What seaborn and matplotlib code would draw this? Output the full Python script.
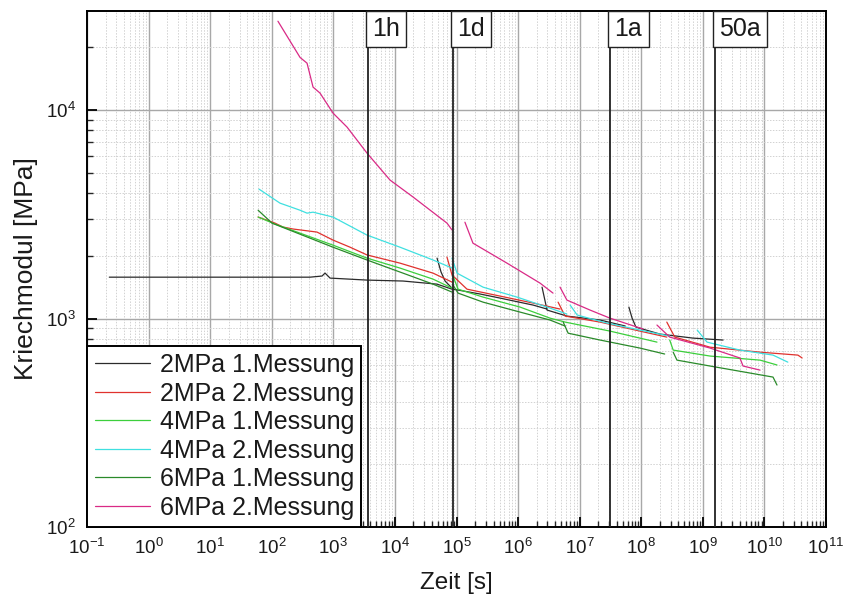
import matplotlib
matplotlib.use("Agg")
import matplotlib.pyplot as plt
import matplotlib.ticker as mticker
import matplotlib.transforms as mtransforms
import pandas as pd
import seaborn as sns

# ---- data: creep modulus [MPa] over time [s], each test made of several segments ----
series_names = ["2MPa 1.Messung", "2MPa 2.Messung", "4MPa 1.Messung",
                "4MPa 2.Messung", "6MPa 1.Messung", "6MPa 2.Messung"]
series_colors = ["#2b2b2b", "#e0322e", "#3ccf3c", "#3fe0e0", "#2a8a2a", "#d92a86"]

t_2mpa_1 = [[0.23, 10, 100, 417, 655, 733, 884, 3520, 13550, 48300, 84600],
            [48300, 56100, 65200, 87700, 2.41e5, 5.1e5, 1.75e6, 2.95e6],
            [2.45e6, 2.95e6, 6.2e6, 2.14e7, 5.5e7],
            [6.3e7, 7.1e7, 8.2e7, 2.0e8, 6.9e8, 2.13e9]]
e_2mpa_1 = [[1580, 1580, 1580, 1580, 1600, 1653, 1564, 1530, 1514, 1463, 1384],
            [1950, 1672, 1514, 1384, 1312, 1254, 1161, 1111],
            [1415, 1099, 1028, 984, 921],
            [1135, 1005, 910, 843, 806, 789]]

t_2mpa_2 = [[60, 113, 152, 221, 543, 988, 1870, 3520, 12100, 41600, 84600],
            [7.0e4, 84600, 1.48e5, 5.1e5, 1.75e6, 4.8e6],
            [4.46e6, 5.8e6, 2.14e7, 9.5e7, 2.6e8],
            [2.6e8, 3.5e8, 1.31e9, 8.5e9, 3.5e10, 4.1e10]]
e_2mpa_2 = [[3070, 2870, 2750, 2690, 2600, 2380, 2200, 2020, 1845, 1652, 1496],
            [1972, 1618, 1384, 1282, 1187, 1111],
            [1199, 1028, 962, 871, 815],
            [962, 815, 729, 690, 668, 647]]

t_4mpa_1 = [[60, 113, 288, 988, 3520, 12100, 41600, 84600],
            [87700, 1.06e5, 2.7e5, 1.08e6, 3.3e6, 5.8e6, 3.1e7, 1.8e8],
            [2.9e8, 3.3e8, 1.31e9, 8.5e9, 1.6e10]]
e_4mpa_1 = [[3070, 2840, 2570, 2250, 1950, 1747, 1546, 1400],
            [1600, 1384, 1268, 1135, 1005, 962, 871, 771],
            [789, 706, 661, 632, 599]]

t_4mpa_2 = [[62, 136, 288, 374, 468, 988, 3520, 12100, 41600, 84600],
            [84600, 1.02e5, 2.7e5, 9.6e5, 3.3e6, 6.2e6],
            [7.0e6, 9.1e6, 2.8e7, 9.5e7, 2.9e8],
            [8.1e8, 1.17e9, 4.0e9, 1.38e10, 2.4e10]]
e_4mpa_2 = [[4180, 3580, 3310, 3205, 3240, 3070, 2515, 2200, 1910, 1747],
            [1950, 1652, 1415, 1268, 1123, 1051],
            [1161, 1040, 951, 881, 824],
            [881, 771, 706, 668, 618]]

t_6mpa_1 = [[60, 101, 288, 988, 3520, 12100, 41600, 84600],
            [87700, 1.06e5, 2.7e5, 1.08e6, 3.3e6, 5.8e6],
            [5.4e6, 6.5e6, 2.14e7, 9.5e7, 2.4e8],
            [3.3e8, 3.8e8, 1.31e9, 1.38e10, 1.6e10]]
e_6mpa_1 = [[3310, 2870, 2540, 2200, 1910, 1672, 1463, 1340],
            [1449, 1325, 1199, 1074, 984, 921],
            [962, 851, 789, 722, 676],
            [690, 632, 592, 524, 480]]

t_6mpa_2 = [[126, 288, 374, 468, 608, 988, 1670, 3520, 8320, 19700, 70100, 84600],
            [1.37e5, 1.85e5, 3.5e5, 6.6e5, 2.27e6, 3.69e6],
            [4.8e6, 6.2e6, 1.47e7, 3.1e7, 1.07e8],
            [1.8e8, 2.9e8, 1.31e9, 4.0e9, 4.5e9, 8.5e9]]
e_6mpa_2 = [[26700, 17900, 16800, 12900, 12070, 9680, 8290, 6220, 4620, 3830, 2870, 2660],
            [2900, 2300, 2060, 1845, 1480, 1325],
            [1415, 1227, 1099, 1005, 891],
            [931, 815, 722, 647, 592, 566]]

marker_times = [3600, 86400, 3.1536e7, 1.5768e9]
marker_labels = ["1h", "1d", "1a", "50a"]

all_t = [t_2mpa_1, t_2mpa_2, t_4mpa_1, t_4mpa_2, t_6mpa_1, t_6mpa_2]
all_e = [e_2mpa_1, e_2mpa_2, e_4mpa_1, e_4mpa_2, e_6mpa_1, e_6mpa_2]

rows = []
for name, segs_t, segs_e in zip(series_names, all_t, all_e):
    for k, (ts, es) in enumerate(zip(segs_t, segs_e)):
        for t, e in zip(ts, es):
            rows.append({"series": name, "segment": k, "Zeit": t, "Modul": e})
df = pd.DataFrame(rows)

# ---- styling ----
sns.set_theme(style="ticks")
plt.rcParams["font.family"] = ["Liberation Sans", "DejaVu Sans"]
plt.rcParams["mathtext.fontset"] = "custom"
plt.rcParams["mathtext.rm"] = "Liberation Sans"
plt.rcParams["mathtext.it"] = "Liberation Sans:italic"
plt.rcParams["mathtext.bf"] = "Liberation Sans:bold"
plt.rcParams["text.color"] = "#1a1a1a"
plt.rcParams["axes.labelcolor"] = "#1a1a1a"

fig = plt.figure(figsize=(8.45, 6.01), dpi=100)
ax = fig.add_axes([0.103, 0.1231, 0.8745, 0.8586])

sns.lineplot(data=df, x="Zeit", y="Modul", hue="series", hue_order=series_names,
             units="segment", estimator=None, sort=False,
             palette=series_colors, linewidth=0.9, ax=ax, zorder=3)

ax.set_xscale("log")
ax.set_yscale("log")
ax.set_xlim(0.1, 1e11)
ax.set_ylim(100, 29900)

ax.xaxis.set_major_locator(mticker.LogLocator(base=10, numticks=20))
ax.xaxis.set_minor_locator(mticker.LogLocator(base=10, subs=range(2, 10), numticks=20))
ax.xaxis.set_minor_formatter(mticker.NullFormatter())
ax.yaxis.set_major_locator(mticker.LogLocator(base=10, numticks=10))
ax.yaxis.set_minor_locator(mticker.LogLocator(base=10, subs=range(2, 10), numticks=10))
ax.yaxis.set_minor_formatter(mticker.NullFormatter())

ax.grid(which="major", color="#a8a8a8", linewidth=1.0, linestyle="-", zorder=0)
ax.grid(which="minor", color="#d2d2d2", linewidth=0.7, linestyle=(0, (1.5, 1.5)), zorder=0)
ax.set_axisbelow(True)

ax.tick_params(axis="both", which="major", direction="in", length=7, width=1.3,
               labelsize=13.5, pad=8, top=False, right=False, colors="black",
               labelcolor="#1a1a1a")
ax.tick_params(axis="both", which="minor", direction="in", length=4, width=1.0,
               top=False, right=False)
for sp in ax.spines.values():
    sp.set_linewidth(1.4)
    sp.set_color("black")

ax.set_xlabel("Zeit [s]", fontsize=17.5, labelpad=10)
ax.set_ylabel("Kriechmodul [MPa]", fontsize=19, labelpad=6)

# time markers with boxed labels at the top
trans = mtransforms.blended_transform_factory(ax.transData, ax.transAxes)
for t, lab in zip(marker_times, marker_labels):
    ax.plot([t, t], [0, 0.969], transform=trans, color="#222222", linewidth=1.3, zorder=4)
    ax.annotate(lab, xy=(t, 1.0), xycoords=trans, xytext=(3.0, -4.5),
                textcoords="offset points", ha="left", va="top", fontsize=18,
                bbox=dict(boxstyle="square,pad=0.25", fc="white", ec="#222222", lw=1.0),
                zorder=5)

handles, labels = ax.get_legend_handles_labels()
leg = ax.legend(handles, labels, loc="lower left", fontsize=18, frameon=True,
                fancybox=False, borderaxespad=0, handlelength=2.2,
                handletextpad=0.4, labelspacing=0.18, borderpad=0.3)
leg.get_frame().set_edgecolor("black")
leg.get_frame().set_linewidth(1.4)
leg.get_frame().set_alpha(1)
for line in leg.get_lines():
    line.set_linewidth(0.9)

fig.savefig("out.png", dpi=100, facecolor="white")
